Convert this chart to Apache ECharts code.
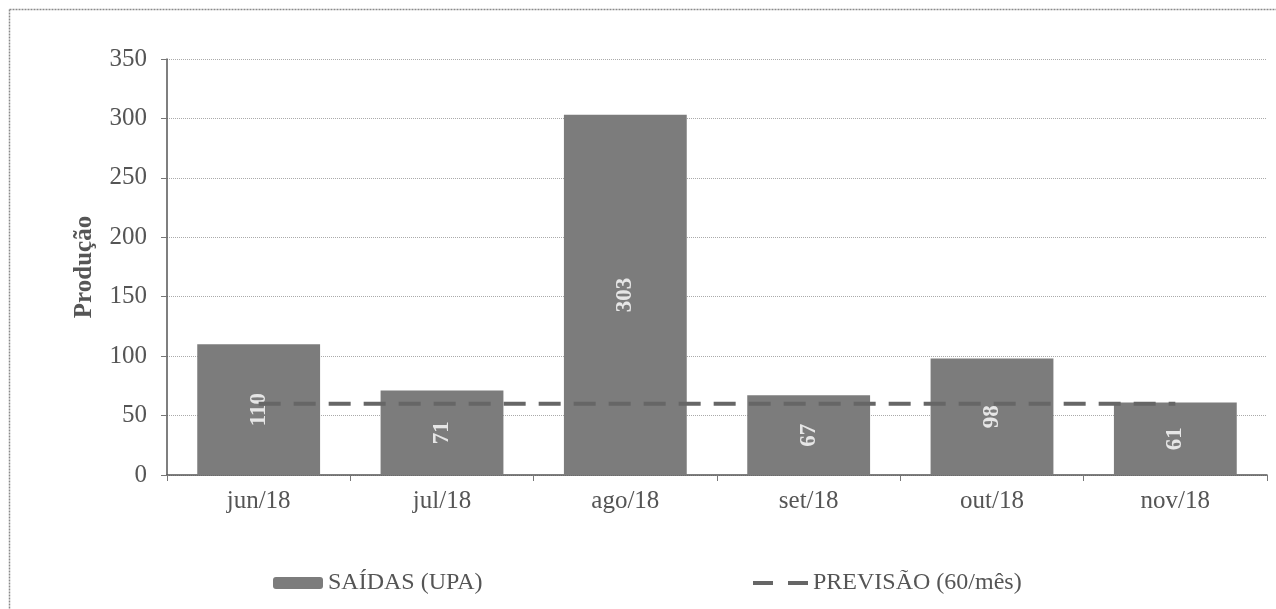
<!DOCTYPE html>
<html>
<head>
<meta charset="utf-8">
<script src="https://cdn.jsdelivr.net/npm/echarts@6/dist/echarts.min.js"></script>
<style>
html,body{margin:0;padding:0;background:#fff;}
#c{width:1276px;height:609px;}
</style>
</head>
<body>
<div id="c"></div>
<script>
var categories = ['jun/18','jul/18','ago/18','set/18','out/18','nov/18'];
var saidas = [110, 71, 303, 67, 98, 61];
var previsao = [60, 60, 60, 60, 60, 60];
var yTicks = {min: 0, max: 350, interval: 50};

var serif = 'Liberation Serif';
var chart = echarts.init(document.getElementById('c'), null, {renderer: 'canvas'});
chart.setOption({
  backgroundColor: '#ffffff',
  animation: false,
  textStyle: {fontFamily: serif},
  grid: {left: 167, right: 9, top: 59, bottom: 134},
  graphic: [
    {type: 'line', shape: {x1: 9.5, y1: 9.5, x2: 1276, y2: 9.5}, style: {stroke: '#8a8a8a', lineWidth: 1.5, lineDash: [2, 1]}},
    {type: 'line', shape: {x1: 9.5, y1: 9.5, x2: 9.5, y2: 609}, style: {stroke: '#8a8a8a', lineWidth: 1.5, lineDash: [2, 1]}}
  ],
  legend: [
    {
      data: ['SAÍDAS (UPA)'], left: 268, top: 566,
      itemWidth: 50, itemHeight: 12, itemGap: 5,
      textStyle: {fontFamily: serif, fontSize: 24, color: '#555'}
    },
    {
      data: [{name: 'PREVISÃO (60/mês)', icon: 'path://M0,0h20v4h-20z M35,0h20v4h-20z'}],
      left: 748, top: 566,
      itemWidth: 55, itemHeight: 4,
      textStyle: {fontFamily: serif, fontSize: 24, color: '#555'}
    }
  ],
  xAxis: {
    type: 'category',
    data: categories,
    axisLine: {lineStyle: {color: '#555', width: 1.5}},
    axisTick: {show: true, length: 6, lineStyle: {color: '#777'}},
    axisLabel: {fontFamily: serif, fontSize: 25, color: '#555', margin: 14}
  },
  yAxis: {
    type: 'value',
    min: yTicks.min, max: yTicks.max, interval: yTicks.interval,
    name: 'Produção',
    nameLocation: 'middle',
    nameGap: 70,
    nameTextStyle: {fontFamily: serif, fontSize: 25, fontWeight: 'bold', color: '#555'},
    axisLine: {show: true, lineStyle: {color: '#555', width: 1.5}},
    axisTick: {show: true, length: 6, lineStyle: {color: '#777'}},
    axisLabel: {fontFamily: serif, fontSize: 25, color: '#555', margin: 20},
    splitLine: {lineStyle: {color: '#aaa', type: 'dotted', width: 1}}
  },
  series: [
    {
      name: 'SAÍDAS (UPA)',
      type: 'bar',
      data: saidas,
      barWidth: '67%',
      itemStyle: {color: '#7c7c7c'},
      label: {
        show: true, position: 'inside', rotate: 90,
        fontFamily: serif, fontSize: 23, fontWeight: 'bold', color: '#e6e6e6'
      },
      z: 2
    },
    {
      name: 'PREVISÃO (60/mês)',
      type: 'line',
      data: previsao,
      symbol: 'none',
      lineStyle: {color: '#666', width: 4, type: [22, 13]},
      itemStyle: {color: '#666'},
      z: 3
    }
  ]
});
</script>
</body>
</html>
